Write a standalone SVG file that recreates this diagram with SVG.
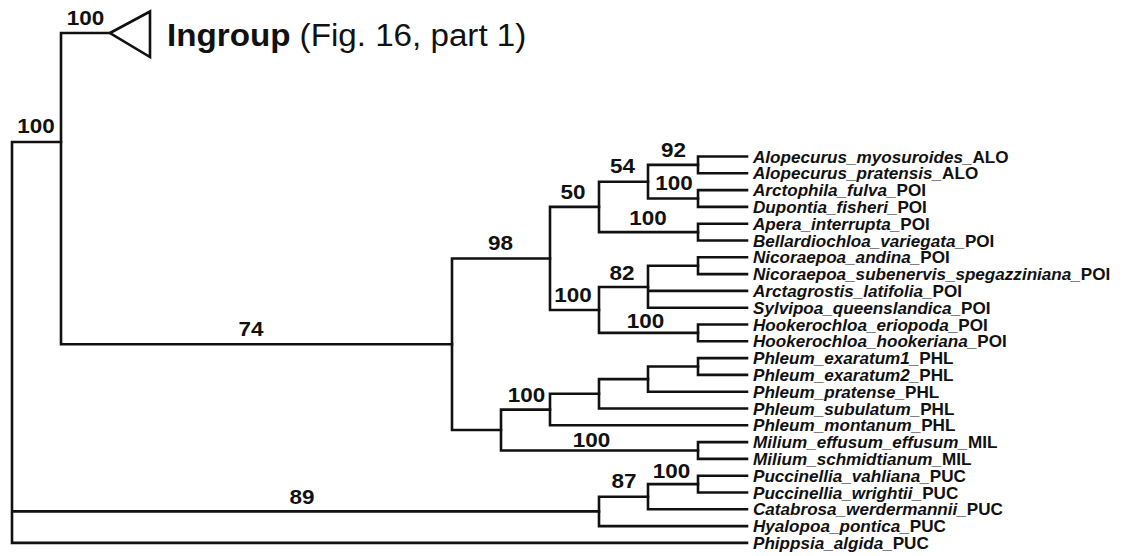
<svg xmlns="http://www.w3.org/2000/svg" width="1125" height="556" viewBox="0 0 1125 556">
<style>
  .br { fill: none; stroke: #111; stroke-width: 2.6; stroke-linecap: square; stroke-linejoin: miter; }
  .bs { font-family: "Liberation Sans", Arial, Helvetica, sans-serif; font-weight: bold; font-size: 21px; fill: #111; text-anchor: middle; }
  .tx { font-family: "Liberation Sans", Arial, Helvetica, sans-serif; font-size: 16px; fill: #111; font-weight: bold; }
  .tx .g { font-style: italic; }
  .ttl { font-family: "Liberation Sans", Arial, Helvetica, sans-serif; font-size: 31px; fill: #111; }
</style>
<rect width="1125" height="556" fill="#ffffff"/>

<g id="connectors">
  <path class="br" d="M12,142 V542.9 M12,142 H61 M12,511.4 H599 M12,542.9 H747"/>
  <path class="br" d="M61,33 V344.3 M61,33 H110 M61,344.3 H452"/>
  <path class="br" d="M452,258.5 V430 M452,258.5 H550 M452,430 H501"/>
  <path class="br" d="M550,206.9 V310 M550,206.9 H599 M550,310 H599"/>
  <path class="br" d="M599,181.7 V232.1 M599,181.7 H648 M599,232.1 H698"/>
  <path class="br" d="M648,164.9 V198.5 M648,164.9 H698 M648,198.5 H698"/>
  <path class="br" d="M698,156.5 V173.3 M698,156.5 H747 M698,173.3 H747"/>
  <path class="br" d="M698,190.1 V206.9 M698,190.1 H747 M698,206.9 H747"/>
  <path class="br" d="M698,223.7 V240.5 M698,223.7 H747 M698,240.5 H747"/>
  <path class="br" d="M599,287 V332.9 M599,287 H648 M599,332.9 H698"/>
  <path class="br" d="M648,265.7 V307.7 M648,265.7 H698 M648,290.9 H747 M648,307.7 H747"/>
  <path class="br" d="M698,257.3 V274.1 M698,257.3 H747 M698,274.1 H747"/>
  <path class="br" d="M698,324.5 V341.3 M698,324.5 H747 M698,341.3 H747"/>
  <path class="br" d="M501,409.6 V450.5 M501,409.6 H550 M501,450.5 H698"/>
  <path class="br" d="M550,393.8 V425.3 M550,393.8 H599 M550,425.3 H747"/>
  <path class="br" d="M599,379.1 V408.5 M599,379.1 H648 M599,408.5 H747"/>
  <path class="br" d="M648,366.5 V391.7 M648,366.5 H698 M648,391.7 H747"/>
  <path class="br" d="M698,358.1 V374.9 M698,358.1 H747 M698,374.9 H747"/>
  <path class="br" d="M698,442.1 V458.9 M698,442.1 H747 M698,458.9 H747"/>
  <path class="br" d="M599,496.7 V526.1 M599,496.7 H648 M599,526.1 H747"/>
  <path class="br" d="M648,484.1 V509.3 M648,484.1 H698 M648,509.3 H747"/>
  <path class="br" d="M698,475.7 V492.5 M698,475.7 H747 M698,492.5 H747"/>
</g>

<g id="ingroup">
  <polygon class="br" points="110,33 150,11.5 150,57"/>
  <text class="ttl" transform="translate(167,46) scale(1.07,1)"><tspan font-weight="bold">Ingroup</tspan> (Fig. 16, part 1)</text>
</g>

<g id="support-values">
  <text class="bs" transform="translate(85.5,25) scale(1.07,1)">100</text>
  <text class="bs" transform="translate(36,133) scale(1.07,1)">100</text>
  <text class="bs" transform="translate(251,336) scale(1.07,1)">74</text>
  <text class="bs" transform="translate(302,504) scale(1.07,1)">89</text>
  <text class="bs" transform="translate(673.5,157) scale(1.07,1)">92</text>
  <text class="bs" transform="translate(622.5,173) scale(1.07,1)">54</text>
  <text class="bs" transform="translate(674,190) scale(1.07,1)">100</text>
  <text class="bs" transform="translate(573,199) scale(1.07,1)">50</text>
  <text class="bs" transform="translate(648,225) scale(1.07,1)">100</text>
  <text class="bs" transform="translate(500.5,250) scale(1.07,1)">98</text>
  <text class="bs" transform="translate(622,280) scale(1.07,1)">82</text>
  <text class="bs" transform="translate(573,302) scale(1.07,1)">100</text>
  <text class="bs" transform="translate(645.5,328) scale(1.07,1)">100</text>
  <text class="bs" transform="translate(526.5,402) scale(1.07,1)">100</text>
  <text class="bs" transform="translate(591.5,447) scale(1.07,1)">100</text>
  <text class="bs" transform="translate(624,488) scale(1.07,1)">87</text>
  <text class="bs" transform="translate(671.5,478) scale(1.07,1)">100</text>
</g>

<g id="taxa">
  <text class="tx" transform="translate(753,162.5) scale(1.07,1)"><tspan class="g">Alopecurus_myosuroides_</tspan>ALO</text>
  <text class="tx" transform="translate(753,179.3) scale(1.07,1)"><tspan class="g">Alopecurus_pratensis_</tspan>ALO</text>
  <text class="tx" transform="translate(753,196.1) scale(1.07,1)"><tspan class="g">Arctophila_fulva_</tspan>POI</text>
  <text class="tx" transform="translate(753,212.9) scale(1.07,1)"><tspan class="g">Dupontia_fisheri_</tspan>POI</text>
  <text class="tx" transform="translate(753,229.7) scale(1.07,1)"><tspan class="g">Apera_interrupta_</tspan>POI</text>
  <text class="tx" transform="translate(753,246.5) scale(1.07,1)"><tspan class="g">Bellardiochloa_variegata_</tspan>POI</text>
  <text class="tx" transform="translate(753,263.3) scale(1.07,1)"><tspan class="g">Nicoraepoa_andina_</tspan>POI</text>
  <text class="tx" transform="translate(753,280.1) scale(1.07,1)"><tspan class="g">Nicoraepoa_subenervis_spegazziniana_</tspan>POI</text>
  <text class="tx" transform="translate(753,296.9) scale(1.07,1)"><tspan class="g">Arctagrostis_latifolia_</tspan>POI</text>
  <text class="tx" transform="translate(753,313.7) scale(1.07,1)"><tspan class="g">Sylvipoa_queenslandica_</tspan>POI</text>
  <text class="tx" transform="translate(753,330.5) scale(1.07,1)"><tspan class="g">Hookerochloa_eriopoda_</tspan>POI</text>
  <text class="tx" transform="translate(753,347.3) scale(1.07,1)"><tspan class="g">Hookerochloa_hookeriana_</tspan>POI</text>
  <text class="tx" transform="translate(753,364.1) scale(1.07,1)"><tspan class="g">Phleum_exaratum1_</tspan>PHL</text>
  <text class="tx" transform="translate(753,380.9) scale(1.07,1)"><tspan class="g">Phleum_exaratum2_</tspan>PHL</text>
  <text class="tx" transform="translate(753,397.7) scale(1.07,1)"><tspan class="g">Phleum_pratense_</tspan>PHL</text>
  <text class="tx" transform="translate(753,414.5) scale(1.07,1)"><tspan class="g">Phleum_subulatum_</tspan>PHL</text>
  <text class="tx" transform="translate(753,431.3) scale(1.07,1)"><tspan class="g">Phleum_montanum_</tspan>PHL</text>
  <text class="tx" transform="translate(753,448.1) scale(1.07,1)"><tspan class="g">Milium_effusum_effusum_</tspan>MIL</text>
  <text class="tx" transform="translate(753,464.9) scale(1.07,1)"><tspan class="g">Milium_schmidtianum_</tspan>MIL</text>
  <text class="tx" transform="translate(753,481.7) scale(1.07,1)"><tspan class="g">Puccinellia_vahliana_</tspan>PUC</text>
  <text class="tx" transform="translate(753,498.5) scale(1.07,1)"><tspan class="g">Puccinellia_wrightii_</tspan>PUC</text>
  <text class="tx" transform="translate(753,515.3) scale(1.07,1)"><tspan class="g">Catabrosa_werdermannii_</tspan>PUC</text>
  <text class="tx" transform="translate(753,532.1) scale(1.07,1)"><tspan class="g">Hyalopoa_pontica_</tspan>PUC</text>
  <text class="tx" transform="translate(753,548.9) scale(1.07,1)"><tspan class="g">Phippsia_algida_</tspan>PUC</text>
</g>
</svg>
